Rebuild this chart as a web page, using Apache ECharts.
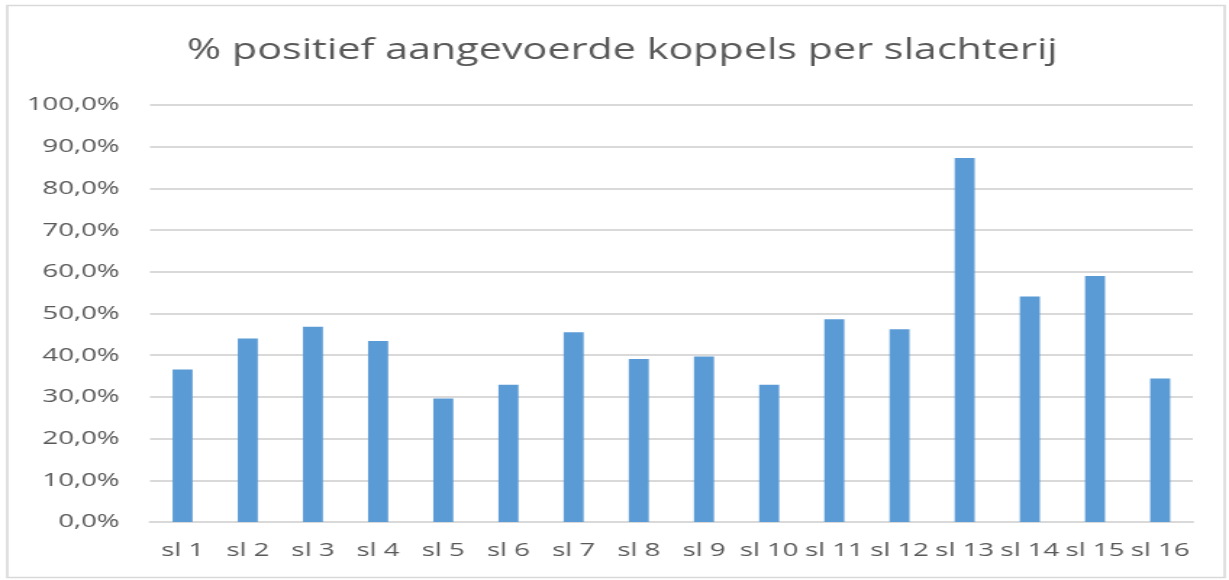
<!DOCTYPE html>
<html>
<head>
<meta charset="utf-8">
<script src="https://cdn.jsdelivr.net/npm/echarts@6/dist/echarts.min.js"></script>
<style>
  html, body { margin: 0; padding: 0; background: #fff; overflow: hidden; }
  /* the source picture is stretched sideways, so the chart is drawn narrow and widened */
  #chart { width: 848px; height: 580px; transform: scaleX(1.4493); transform-origin: 0 0; }
</style>
</head>
<body>
<div id="chart"></div>
<script>
const categories = ['sl 1', 'sl 2', 'sl 3', 'sl 4', 'sl 5', 'sl 6', 'sl 7', 'sl 8',
  'sl 9', 'sl 10', 'sl 11', 'sl 12', 'sl 13', 'sl 14', 'sl 15', 'sl 16'];
const positief = [36.6, 44.0, 46.8, 43.4, 29.6, 32.9, 45.5, 39.1,
  39.7, 32.9, 48.6, 46.2, 87.3, 54.1, 59.0, 34.4];
const yTicks = [0, 10, 20, 30, 40, 50, 60, 70, 80, 90, 100];

const chart = echarts.init(document.getElementById('chart'), null, { renderer: 'canvas' });

const option = {
  backgroundColor: '#fff',
  animation: false,
  title: {
    text: '% positief aangevoerde koppels per slachterij',
    left: 124,
    top: 31,
    textStyle: {
      fontFamily: 'Open Sans',
      fontSize: 28.5,
      fontWeight: 'normal',
      color: '#595959'
    }
  },
  graphic: [{
    type: 'rect',
    shape: { x: 5, y: 5.5, width: 840, height: 572 },
    style: { fill: 'none', stroke: '#d9d9d9', lineWidth: 1.6 },
    silent: true
  }],
  grid: {
    left: 103.5,
    right: 25,
    top: 105,
    bottom: 58
  },
  xAxis: {
    type: 'category',
    data: categories,
    axisTick: { show: false },
    axisLine: { lineStyle: { color: '#d9d9d9', width: 2 } },
    axisLabel: {
      interval: 0,
      margin: 19,
      fontFamily: 'Open Sans',
      fontSize: 19,
      color: '#595959'
    }
  },
  yAxis: {
    type: 'value',
    min: yTicks[0],
    max: yTicks[yTicks.length - 1],
    interval: 10,
    axisLine: { show: false },
    axisTick: { show: false },
    splitLine: { lineStyle: { color: '#d9d9d9', width: 2 } },
    axisLabel: {
      margin: 21,
      fontFamily: 'Open Sans',
      fontSize: 19,
      color: '#595959',
      formatter: v => v.toFixed(1).replace('.', ',') + '%'
    }
  },
  series: [{
    name: 'positief',
    type: 'bar',
    barWidth: 13.8,
    itemStyle: { color: '#5b9bd5' },
    data: positief
  }]
};

chart.setOption(option);
</script>
</body>
</html>
